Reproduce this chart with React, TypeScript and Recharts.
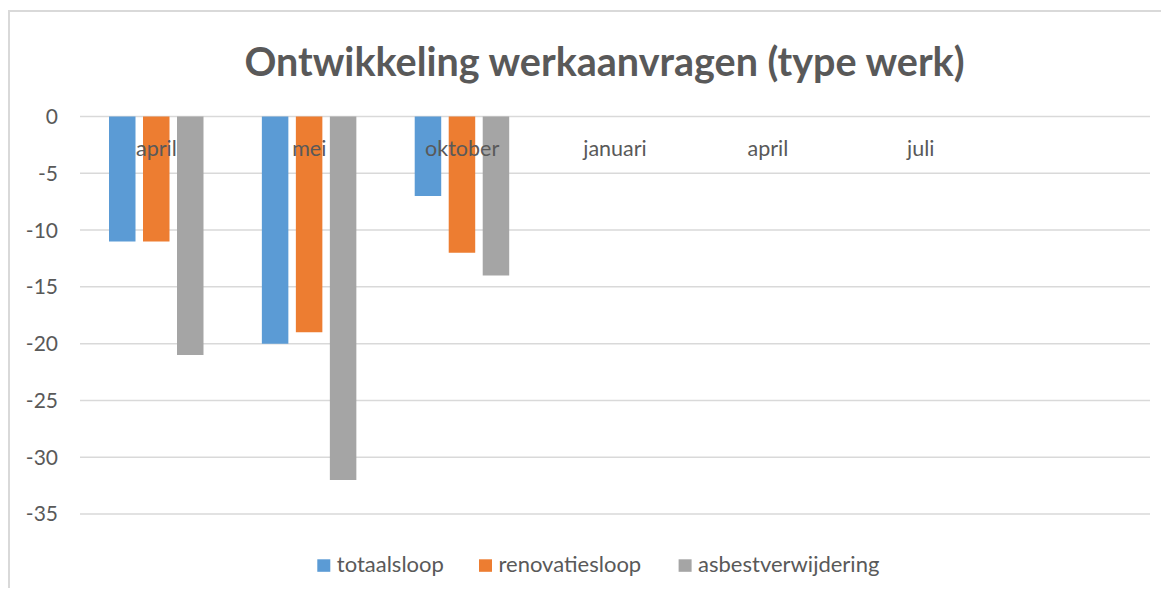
import React from "react";
import { BarChart, Bar, XAxis, YAxis, CartesianGrid } from "recharts";

const categories = ["april", "mei", "oktober", "januari", "april", "juli", ""];
const totaalsloop = [-11, -20, -7, null, null, null, null];
const renovatiesloop = [-11, -19, -12, null, null, null, null];
const asbestverwijdering = [-21, -32, -14, null, null, null, null];
const yTicks = [0, -5, -10, -15, -20, -25, -30, -35];

const seriesNames = ["totaalsloop", "renovatiesloop", "asbestverwijdering"];
const colors = ["#5B9BD5", "#ED7D31", "#A5A5A5"];
const title = "Ontwikkeling werkaanvragen (type werk)";

const data = categories.map((c, i) => ({
  month: c,
  totaalsloop: totaalsloop[i],
  renovatiesloop: renovatiesloop[i],
  asbestverwijdering: asbestverwijdering[i],
}));

const FONT = "Lato, 'Open Sans', sans-serif";
const TEXT = "#595959";

const renderXTick = (p: any) => (
  <text
    key={p.index}
    x={p.x}
    y={p.y + 47.5}
    textAnchor="middle"
    fill={TEXT}
    fontSize={21.5}
    fontFamily={FONT}
  >
    {p.payload.value}
  </text>
);

const legendX = [317.3, 479, 678.6];

export default function App() {
  return (
    <div style={{ position: "relative", margin: -8, width: 1169, height: 596, background: "#fff", overflow: "hidden" }}>
      <div
        style={{
          position: "absolute",
          left: 8,
          top: 10,
          width: 1300,
          height: 700,
          borderLeft: "2px solid #d9d9d9",
          borderTop: "2px solid #d9d9d9",
        }}
      />
      <div style={{ position: "absolute", left: 0, top: 0 }}>
        <BarChart
          width={1169}
          height={596}
          data={data}
          margin={{ top: 86.5, right: 19, bottom: 82, left: 0 }}
          barSize={26.5}
          barGap={7.5}
        >
          <CartesianGrid vertical={false} stroke="#d9d9d9" strokeWidth={1.5} />
          <XAxis
            dataKey="month"
            orientation="top"
            height={30}
            axisLine={false}
            tickLine={false}
            tick={renderXTick}
            interval={0}
          />
          <YAxis
            domain={[-35, 0]}
            ticks={yTicks}
            width={80}
            axisLine={false}
            tickLine={false}
            tickMargin={16}
            tick={{ fill: TEXT, fontSize: 21, fontFamily: FONT }}
          />
          {seriesNames.map((n, i) => (
            <Bar key={n} dataKey={n} fill={colors[i]} isAnimationActive={false} />
          ))}
        </BarChart>
      </div>
      <svg
        width={1169}
        height={596}
        style={{ position: "absolute", left: 0, top: 0, pointerEvents: "none" }}
      >
        <text
          x={604.5}
          y={76}
          textAnchor="middle"
          fill={TEXT}
          fontFamily={FONT}
          fontWeight={700}
          fontSize={39.5}
        >
          {title}
        </text>
        {seriesNames.map((n, i) => (
          <g key={n}>
            <rect x={legendX[i]} y={559.3} width={13} height={12.5} fill={colors[i]} />
            <text
              x={legendX[i] + 19.5}
              y={571.7}
              fill={TEXT}
              fontFamily={FONT}
              fontSize={22}
            >
              {n}
            </text>
          </g>
        ))}
      </svg>
    </div>
  );
}
